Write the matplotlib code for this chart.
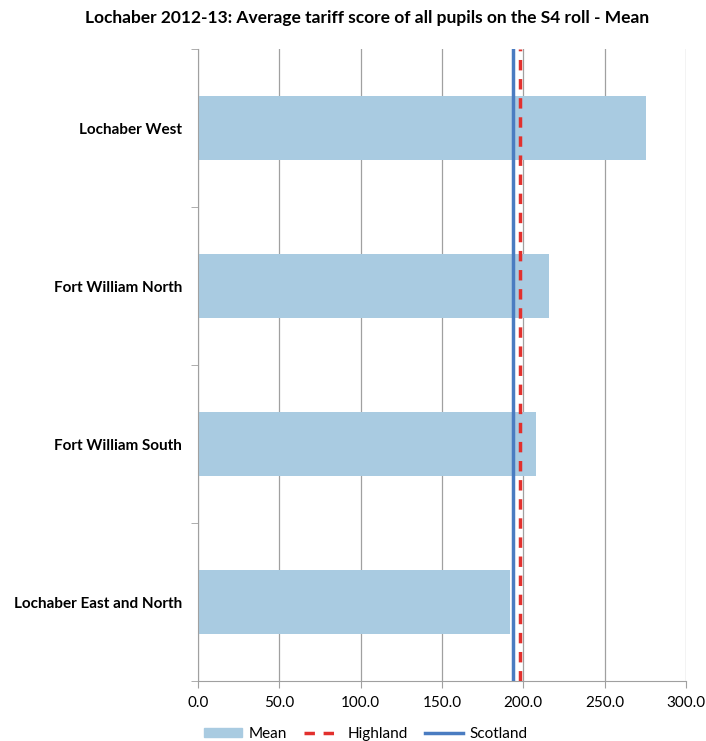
import matplotlib.pyplot as plt
from matplotlib.patches import Patch
from matplotlib.lines import Line2D

plt.rcParams['font.family'] = ['Lato', 'DejaVu Sans']

# Data
areas = ["Lochaber East and North", "Fort William South", "Fort William North", "Lochaber West"]
mean_scores = [191.8, 207.5, 215.7, 275.5]
highland = 197.7
scotland = 193.6

fig = plt.figure(figsize=(7.06, 7.41), dpi=100)
ax = fig.add_axes([198 / 706, 60 / 741, 488 / 706, 632 / 741])

pos = list(range(len(areas)))
ax.barh(pos, mean_scores, height=0.4, color="#a9cbe1", zorder=2)
ax.axvline(scotland, color="#4a7cc1", lw=2.5, zorder=3)
ax.axvline(highland, color="#e2302d", lw=2.5, ls=(0, (3, 2.5)), zorder=4)

ax.set_xlim(0, 300)
ax.set_ylim(-0.5, len(areas) - 0.5)
ax.set_xticks(range(0, 301, 50))
ax.set_xticklabels([f"{v:.1f}" for v in range(0, 301, 50)], fontsize=11)
ax.set_yticks(pos)
ax.set_yticklabels(areas, fontsize=11, fontweight="bold")
ax.tick_params(axis="y", length=0, pad=11.5)
ax.set_yticks([p + 0.5 for p in pos[:-1]] + [-0.5, len(areas) - 0.5], minor=True)
ax.tick_params(axis="y", which="minor", length=5, color="#a0a0a0")
ax.tick_params(axis="x", length=5, color="#a0a0a0", pad=6)
ax.grid(axis="x", color="#a0a0a0", lw=0.9, zorder=1)
for s in ["top", "right"]:
    ax.spines[s].set_visible(False)
for s in ["left", "bottom"]:
    ax.spines[s].set_color("#a0a0a0")

fig.text(367 / 706, 1 - 18 / 741,
         "Lochaber 2012-13: Average tariff score of all pupils on the S4 roll - Mean",
         fontsize=12.5, fontweight="bold", ha="center", va="center")

handles = [Patch(color="#a9cbe1"),
           Line2D([], [], color="#e2302d", lw=2.5, ls=(0, (3, 2.5))),
           Line2D([], [], color="#4a7cc1", lw=2.5)]
fig.legend(handles, ["Mean", "Highland", "Scotland"], loc="center",
           bbox_to_anchor=(366 / 706, 1 - 734 / 741), ncol=3, frameon=False, fontsize=11,
           handlelength=2.5, handleheight=0.6, columnspacing=1.1, handletextpad=0.4,
           borderpad=0)

fig.savefig("out.png", dpi=100)
